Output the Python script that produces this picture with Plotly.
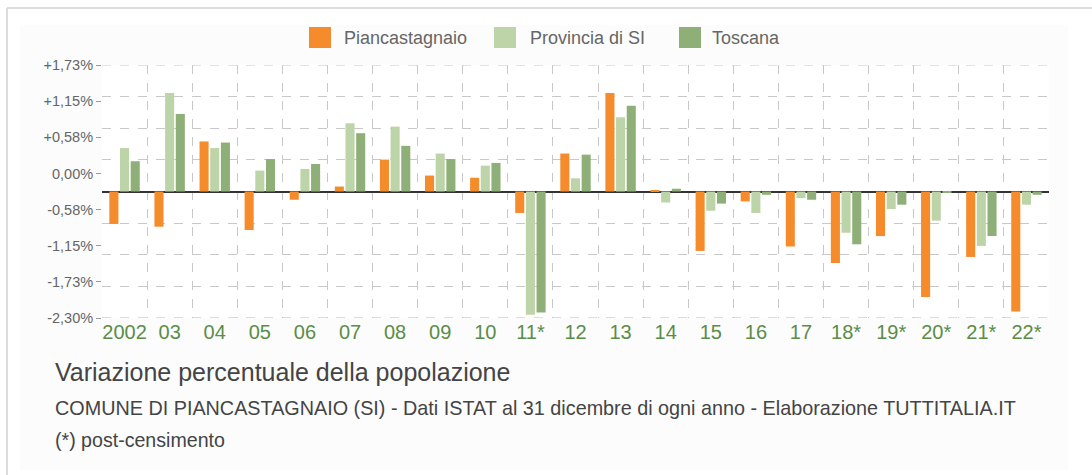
import plotly.graph_objects as go

years = ["2002", "03", "04", "05", "06", "07", "08", "09", "10", "11*", "12",
         "13", "14", "15", "16", "17", "18*", "19*", "20*", "21*", "22*"]
piancastagnaio = [-0.59, -0.64, 0.91, -0.70, -0.15, 0.09, 0.58, 0.29, 0.25, -0.39, 0.69,
                  1.79, 0.02, -1.08, -0.18, -1.00, -1.30, -0.81, -1.92, -1.19, -2.18]
provincia_si = [0.79, 1.79, 0.79, 0.38, 0.41, 1.24, 1.18, 0.69, 0.47, -2.24, 0.24,
                1.35, -0.20, -0.35, -0.39, -0.12, -0.75, -0.32, -0.53, -0.99, -0.24]
toscana = [0.55, 1.41, 0.89, 0.59, 0.50, 1.06, 0.83, 0.59, 0.52, -2.20, 0.67,
           1.56, 0.05, -0.22, -0.06, -0.15, -0.96, -0.24, -0.02, -0.81, -0.06]
tick_labels = ["-2,30%", "-1,73%", "-1,15%", "-0,58%", "0,00%", "+0,58%", "+1,15%", "+1,73%"]

series_names = ["Piancastagnaio", "Provincia di SI", "Toscana"]
series_values = [piancastagnaio, provincia_si, toscana]
series_colors = ["#F68B2C", "#BDD4A9", "#8EAF78"]

R = 2.30
n = len(tick_labels)
label_pos = [-R + i * 2 * R / (n - 1) for i in range(n)]
grid_pos = [-R + i * R / 4 for i in range(1, 8)]

fig = go.Figure()
for name, vals, col in zip(series_names, series_values, series_colors):
    fig.add_trace(go.Bar(x=years, y=vals, name=name, marker_color=col,
                         marker_line_width=0, showlegend=False))

W, H = 1092, 475
L, Rm, T, B = 102, 43, 65, 157
pw, ph = W - L - Rm, H - T - B


def px_x(p):
    return (p - L) / pw


def px_y(p):
    return (H - B - p) / ph


shapes = [
    dict(type="rect", xref="paper", yref="paper", x0=px_x(20), x1=px_x(1068),
         y0=px_y(470), y1=px_y(25), fillcolor="#fcfcfc", line_width=0, layer="below"),
    dict(type="rect", xref="paper", yref="paper", x0=0, x1=1, y0=0, y1=1,
         fillcolor="white", line_width=0, layer="below"),
    dict(type="line", xref="paper", yref="paper", x0=px_x(7), x1=px_x(7),
         y0=px_y(475), y1=px_y(8), line=dict(color="#dcdcdc", width=2)),
    dict(type="line", xref="paper", yref="paper", x0=px_x(7), x1=px_x(1092),
         y0=px_y(8), y1=px_y(8), line=dict(color="#dcdcdc", width=2)),
    dict(type="line", xref="paper", yref="y", x0=0, x1=1, y0=R, y1=R,
         line=dict(color="#c8c8c8", width=1, dash="dash")),
    dict(type="line", xref="paper", yref="y", x0=0, x1=1, y0=-R, y1=-R,
         line=dict(color="#b8b8b8", width=1, dash="dash")),
]

annotations = [
    dict(text="Variazione percentuale della popolazione", xref="paper", yref="paper",
         x=px_x(53), y=px_y(372), xanchor="left", yanchor="middle", showarrow=False,
         font=dict(size=25, color="#444")),
    dict(text="COMUNE DI PIANCASTAGNAIO (SI) - Dati ISTAT al 31 dicembre di ogni anno - Elaborazione TUTTITALIA.IT",
         xref="paper", yref="paper", x=px_x(53), y=px_y(408), xanchor="left",
         yanchor="middle", showarrow=False, font=dict(size=19.8, color="#444")),
    dict(text="(*) post-censimento", xref="paper", yref="paper", x=px_x(53), y=px_y(440),
         xanchor="left", yanchor="middle", showarrow=False,
         font=dict(size=19.6, color="#444")),
]

legend_sw_x = [309, 494, 679]
legend_tx_x = [342, 528, 710]
for name, col, sx, tx in zip(series_names, series_colors, legend_sw_x, legend_tx_x):
    shapes.append(dict(type="rect", xref="paper", yref="paper", x0=px_x(sx), x1=px_x(sx + 22),
                       y0=px_y(48), y1=px_y(27), fillcolor=col, line_width=0))
    annotations.append(dict(text=name, xref="paper", yref="paper", x=px_x(tx), y=px_y(38),
                            xanchor="left", yanchor="middle", showarrow=False,
                            font=dict(size=18, color="#666")))

fig.update_layout(
    width=W, height=H,
    margin=dict(l=L, r=Rm, t=T, b=B),
    paper_bgcolor="white", plot_bgcolor="rgba(0,0,0,0)",
    font=dict(family="Liberation Sans, Arial, sans-serif", color="#555"),
    barmode="group", bargap=0.29, bargroupgap=0.15,
    showlegend=False,
    shapes=shapes,
    annotations=annotations,
)

fig.update_xaxes(
    type="category", tickson="boundaries", showgrid=True, gridcolor="#c8c8c8",
    griddash="dash", gridwidth=1, ticks="", showline=False, zeroline=False,
    tickangle=0, tickfont=dict(size=20, color="#5a8d48"), range=[-0.5, len(years) - 0.5],
    fixedrange=True,
)
fig.update_yaxes(
    range=[-R, R], tickmode="array", tickvals=label_pos, ticktext=tick_labels,
    ticks="outside", ticklen=5, tickcolor="#999", showgrid=False,
    tickfont=dict(size=14.5, color="#666"),
    zeroline=True, zerolinecolor="#333", zerolinewidth=1.5,
    showline=False,
    minor=dict(tickmode="array", tickvals=grid_pos, showgrid=True, gridcolor="#c8c8c8",
               griddash="dash", gridwidth=1, ticks=""),
    fixedrange=True,
)

fig.write_html("out.html", config={"displayModeBar": False},
               post_script="document.body.style.margin='0px';")
